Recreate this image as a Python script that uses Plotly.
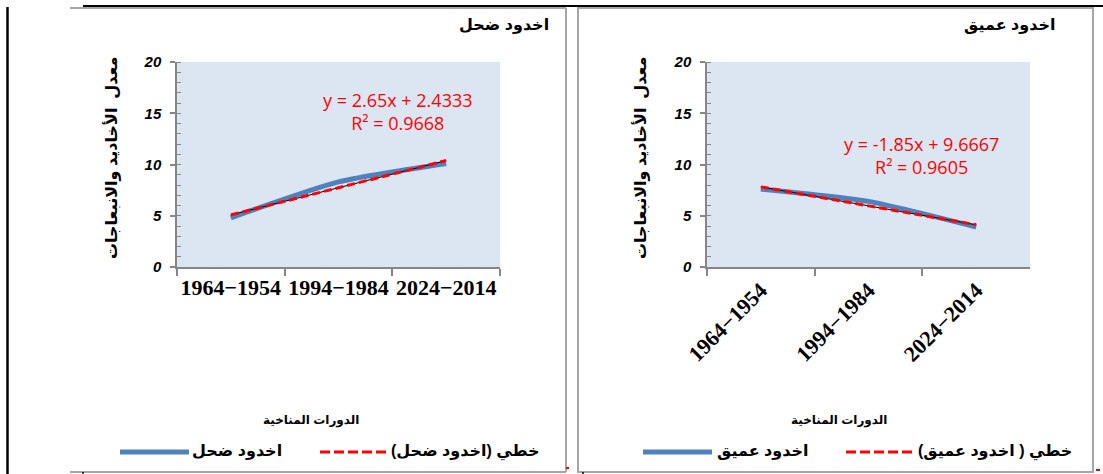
import numpy as np
import plotly.graph_objects as go

# ---------------- data ----------------
periods = ["1964\u22121954", "1994\u22121984", "2024\u22122014"]
shallow_values = [4.8, 8.3, 10.1]     # اخدود ضحل
deep_values = [7.6, 6.4, 3.9]         # اخدود عميق
y_ticks = [0, 5, 10, 15, 20]

shallow_name = "اخدود ضحل"
deep_name = "اخدود عميق"
shallow_trend_name = "خطي (اخدود ضحل)"
deep_trend_name = "خطي ( اخدود عميق)"
x_title = "الدورات المناخية"
y_title = "معدل  الأخاديد والانبعاجات"

W, H = 1103, 474
RLM = "\u200F"

BLUE = "#4F81BD"
RED = "#FF0000"
AXIS = "#868686"
FRAME = "#A6A6A6"
PLOT_BG = "#DCE6F2"
AR_FONT = "Liberation Sans, DejaVu Sans, sans-serif"


def px(x):
    return x / W


def py(y):
    return 1 - y / H


def fmt(v):
    s = f"{v:.4f}".rstrip("0").rstrip(".")
    return s


def trend(values):
    xs = np.arange(1, len(values) + 1)
    slope, intercept = np.polyfit(xs, values, 1)
    fit = slope * xs + intercept
    ss_res = np.sum((np.array(values) - fit) ** 2)
    ss_tot = np.sum((np.array(values) - np.mean(values)) ** 2)
    r2 = 1 - ss_res / ss_tot
    sign = "+" if intercept >= 0 else "-"
    eq = f"y = {fmt(slope)}x {sign} {fmt(abs(intercept))}<br>R\u00b2 = {fmt(r2)}"
    return fit, eq


fig = go.Figure()

panels = [
    dict(xa="x", ya="y", values=shallow_values, left=177, right=500,
         angle=0, eq_x=398, eq_y=111, name=shallow_name, tname=shallow_trend_name,
         title_x=551, ytitle_x=112, xtitle_x=311,
         leg=dict(blue=(120, 189), blue_txt=237, red=(320, 389), red_txt=465)),
    dict(xa="x2", ya="y2", values=deep_values, left=707, right=1030,
         angle=-45, eq_x=921, eq_y=155, name=deep_name, tname=deep_trend_name,
         title_x=1057, ytitle_x=641, xtitle_x=839,
         leg=dict(blue=(643, 712), blue_txt=762, red=(846, 915), red_txt=995)),
]

TOP, BOTTOM = 62, 267
annotations = []
shapes = []

for i, p in enumerate(panels):
    fit, eq = trend(p["values"])
    fig.add_trace(go.Scatter(
        x=periods, y=p["values"], mode="lines", name=p["name"],
        line=dict(color=BLUE, width=5, shape="spline", smoothing=0.6),
        xaxis=p["xa"], yaxis=p["ya"], showlegend=False, hoverinfo="skip"))
    fig.add_trace(go.Scatter(
        x=periods, y=fit, mode="lines", name=p["tname"] + " base",
        line=dict(color="black", width=1),
        xaxis=p["xa"], yaxis=p["ya"], showlegend=False, hoverinfo="skip"))
    fig.add_trace(go.Scatter(
        x=periods, y=fit, mode="lines", name=p["tname"],
        line=dict(color=RED, width=3, dash="8px,4px"),
        xaxis=p["xa"], yaxis=p["ya"], showlegend=False, hoverinfo="skip"))

    sfx = "" if i == 0 else "2"
    fig.update_layout(**{
        "xaxis" + sfx: dict(
            domain=[px(p["left"]), px(p["right"])], anchor="y" + sfx,
            type="category", range=[-0.5, 2.5], automargin=False,
            showline=True, linecolor=AXIS, linewidth=1.5,
            ticks="outside", tickson="boundaries", ticklen=7,
            tickcolor=AXIS, tickwidth=1.5, tickangle=p["angle"],
            tickfont=dict(family="Liberation Serif, serif", size=22,
                          color="black", weight="bold"),
            showgrid=False, zeroline=False, fixedrange=True),
        "yaxis" + sfx: dict(
            domain=[py(BOTTOM), py(TOP)], anchor="x" + sfx,
            range=[0, 20], tickvals=y_ticks, automargin=False,
            showline=True, linecolor=AXIS, linewidth=1.5,
            ticks="outside", ticklen=5, tickcolor=AXIS, tickwidth=1.5,
            minor=dict(dtick=1, ticks="inside", ticklen=4,
                       tickcolor=AXIS, tickwidth=1, showgrid=False),
            ticklabelstandoff=6,
            tickfont=dict(family="Liberation Sans, Arial, sans-serif", size=15,
                          color="black", weight="bold", style="italic"),
            showgrid=False, zeroline=False, fixedrange=True),
    })

    # equation label
    annotations.append(dict(
        x=px(p["eq_x"]), y=py(p["eq_y"]), xref="paper", yref="paper",
        text=eq, showarrow=False, align="center",
        xanchor="center", yanchor="middle",
        font=dict(family="Open Sans, Liberation Sans, sans-serif", size=18, color=RED)))
    # chart title
    annotations.append(dict(
        x=px(p["title_x"]), y=py(25), xref="paper", yref="paper",
        text=RLM + p["name"] + RLM, showarrow=False,
        xanchor="right", yanchor="middle",
        font=dict(family=AR_FONT, size=16, color="black", weight="bold")))
    # y title
    annotations.append(dict(
        x=px(p["ytitle_x"]), y=py(158), xref="paper", yref="paper",
        text=RLM + y_title + RLM, showarrow=False, textangle=-90,
        xanchor="center", yanchor="middle",
        font=dict(family=AR_FONT, size=16, color="black", weight="bold")))
    # x title
    annotations.append(dict(
        x=px(p["xtitle_x"]), y=py(420), xref="paper", yref="paper",
        text=RLM + x_title + RLM, showarrow=False,
        xanchor="center", yanchor="middle",
        font=dict(family=AR_FONT, size=12, color="black", weight="bold")))

    # legend
    lg = p["leg"]
    shapes.append(dict(type="line", xref="paper", yref="paper",
                       x0=px(lg["blue"][0]), x1=px(lg["blue"][1]),
                       y0=py(452), y1=py(452), line=dict(color=BLUE, width=5)))
    shapes.append(dict(type="line", xref="paper", yref="paper",
                       x0=px(lg["red"][0]), x1=px(lg["red"][1]),
                       y0=py(452), y1=py(452),
                       line=dict(color=RED, width=3, dash="10px,4px")))
    annotations.append(dict(
        x=px(lg["blue_txt"]), y=py(451), xref="paper", yref="paper",
        text=RLM + p["name"] + RLM, showarrow=False,
        xanchor="center", yanchor="middle",
        font=dict(family=AR_FONT, size=16, color="black", weight="bold")))
    annotations.append(dict(
        x=px(lg["red_txt"]), y=py(451), xref="paper", yref="paper",
        text=RLM + p["tname"] + RLM, showarrow=False,
        xanchor="center", yanchor="middle",
        font=dict(family=AR_FONT, size=16, color="black", weight="bold")))

# frames and page lines
def line(x0, y0, x1, y1, color, width):
    shapes.append(dict(type="line", xref="paper", yref="paper",
                       x0=px(x0), y0=py(y0), x1=px(x1), y1=py(y1),
                       line=dict(color=color, width=width), layer="above"))

# left chart frame (top, right, bottom)
line(70, 8, 566, 8, FRAME, 2)
line(566, 8, 566, 472, FRAME, 2)
line(70, 472, 566, 472, FRAME, 2)
# right chart frame
shapes.append(dict(type="rect", xref="paper", yref="paper",
                   x0=px(578), y0=py(472), x1=px(1093), y1=py(8),
                   line=dict(color=FRAME, width=2), fillcolor="rgba(0,0,0,0)"))
# page lines
line(83, 6, 1103, 6, "black", 2)
line(7.5, 7, 7.5, 474, "black", 2.5)
line(83, 472, 83, 474, "black", 1.5)
line(583, 472, 583, 474, "black", 1.5)
line(566, 468, 569, 468, RED, 2)
line(1096, 470, 1100, 470, RED, 2)

fig.update_layout(
    width=W, height=H,
    margin=dict(l=0, r=0, t=0, b=0, pad=0, autoexpand=False),
    paper_bgcolor="white",
    plot_bgcolor=PLOT_BG,
    showlegend=False,
    annotations=annotations,
    shapes=shapes,
)

fig.write_html(
    "out.html",
    config={"displayModeBar": False},
    post_script="document.body.style.margin='0';document.body.style.overflow='hidden';",
)
